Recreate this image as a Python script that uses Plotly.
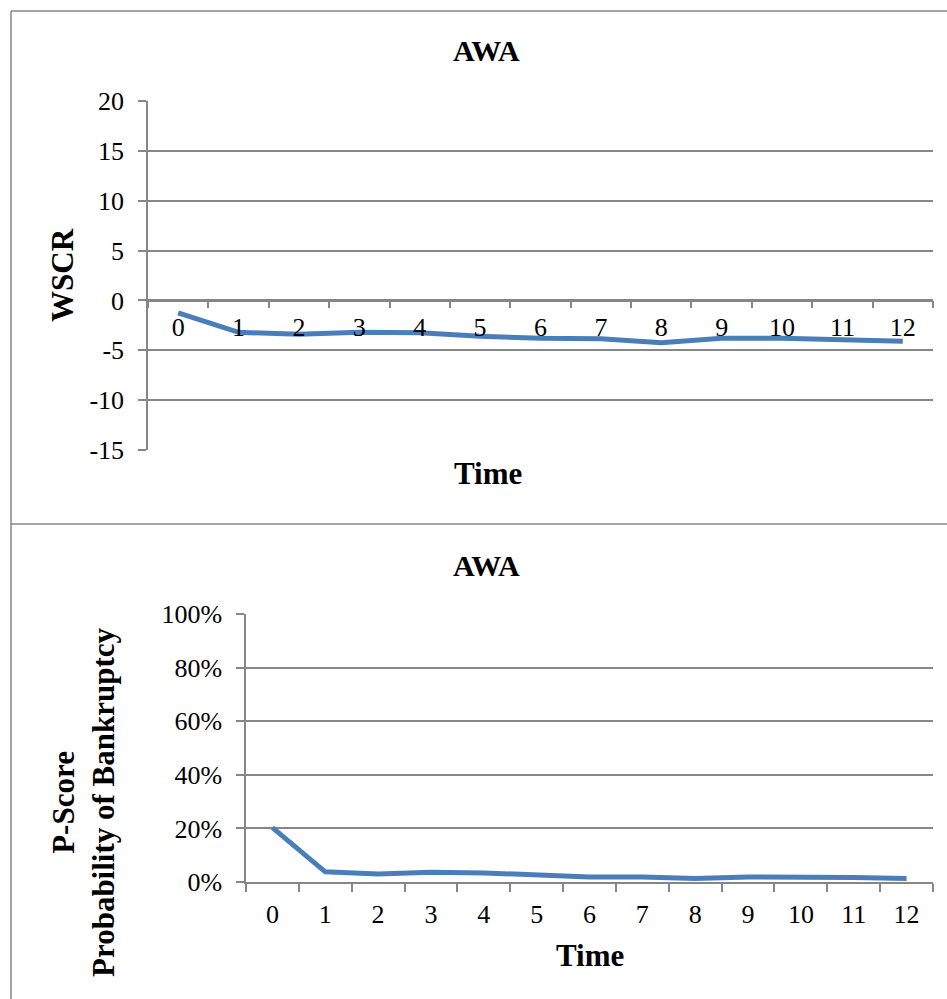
import plotly.graph_objects as go

W, H = 947, 999

time_labels = ["0", "1", "2", "3", "4", "5", "6", "7", "8", "9", "10", "11", "12"]
wscr_values = [-1.25, -3.2, -3.4, -3.2, -3.25, -3.6, -3.8, -3.85, -4.25, -3.8, -3.8, -3.9, -4.1]
pscore_values = [0.203, 0.038, 0.030, 0.036, 0.034, 0.026, 0.019, 0.019, 0.013, 0.019, 0.020, 0.017, 0.013]

chart_title = "AWA"
wscr_ticks = [-15, -10, -5, 0, 5, 10, 15, 20]
wscr_ticktext = ["-15", "-10", "-5", "0", "5", "10", "15", "20"]
pscore_ticks = [0, 0.2, 0.4, 0.6, 0.8, 1.0]
pscore_ticktext = ["0%", "20%", "40%", "60%", "80%", "100%"]

LINE_COLOR = "#4A7EBB"
GRID = "#868686"
FONT = "Liberation Serif"

def py(px):
    return 1 - px / H

def pxx(px):
    return px / W

fig = go.Figure()
fig.add_trace(go.Scatter(x=time_labels, y=wscr_values, mode="lines",
                         line=dict(color=LINE_COLOR, width=5),
                         xaxis="x", yaxis="y", showlegend=False))
fig.add_trace(go.Scatter(x=time_labels, y=pscore_values, mode="lines",
                         line=dict(color=LINE_COLOR, width=5),
                         xaxis="x2", yaxis="y2", showlegend=False))

tickfont = dict(family=FONT, size=26, color="black")

fig.update_layout(
    xaxis=dict(domain=[pxx(148), pxx(933)], type="category", range=[-0.5, 12.5],
               anchor="free", position=py(300.7), automargin=False,
               showline=True, linecolor=GRID, linewidth=1.5,
               ticks="outside", tickson="boundaries", ticklen=7, tickcolor=GRID, tickwidth=1.5,
               showgrid=False, tickfont=tickfont, ticklabelstandoff=3, fixedrange=True),
    yaxis=dict(domain=[py(450), py(101)], range=[-15, 20], tickvals=wscr_ticks,
               ticktext=wscr_ticktext, automargin=False,
               showline=True, linecolor=GRID, linewidth=1.5, anchor="x",
               ticks="outside", ticklen=8, tickcolor=GRID, tickwidth=1.5,
               showgrid=True, gridcolor=GRID, gridwidth=1.5, zeroline=False,
               tickfont=tickfont, ticklabelstandoff=9),
    xaxis2=dict(domain=[pxx(246), pxx(933)], type="category", range=[-0.5, 12.5],
                anchor="y2", automargin=False, showline=True, linecolor=GRID, linewidth=1.5,
                ticks="outside", tickson="boundaries", ticklen=8, tickcolor=GRID, tickwidth=1.5,
                showgrid=False, tickfont=tickfont, ticklabelstandoff=8),
    yaxis2=dict(domain=[py(882), py(614)], range=[0, 1], tickvals=pscore_ticks,
                ticktext=pscore_ticktext, anchor="x2", automargin=False,
                showline=True, linecolor=GRID, linewidth=1.5,
                ticks="outside", ticklen=8, tickcolor=GRID, tickwidth=1.5,
                showgrid=True, gridcolor=GRID, gridwidth=1.5, zeroline=False,
                tickfont=tickfont, ticklabelstandoff=9),
)

shapes = [
    dict(type="line", xref="paper", yref="paper", x0=pxx(11), x1=1, y0=py(11), y1=py(11),
         line=dict(color=GRID, width=1.5)),
    dict(type="line", xref="paper", yref="paper", x0=pxx(11), x1=pxx(11), y0=py(11), y1=0,
         line=dict(color=GRID, width=1.5)),
    dict(type="line", xref="paper", yref="paper", x0=pxx(11), x1=1, y0=py(524), y1=py(524),
         line=dict(color=GRID, width=1.5)),
]

bold = lambda s: dict(family=FONT, size=s, color="black", weight="bold")
annotations = [
    dict(text="<b>" + chart_title + "</b>", x=pxx(487), y=py(51), xref="paper", yref="paper",
         showarrow=False, font=bold(30), xanchor="center", yanchor="middle"),
    dict(text="<b>" + chart_title + "</b>", x=pxx(487), y=py(565), xref="paper", yref="paper",
         showarrow=False, font=bold(30), xanchor="center", yanchor="middle"),
    dict(text="<b>Time</b>", x=pxx(488), y=py(474), xref="paper", yref="paper",
         showarrow=False, font=bold(31), xanchor="center", yanchor="middle"),
    dict(text="<b>Time</b>", x=pxx(590), y=py(955), xref="paper", yref="paper",
         showarrow=False, font=bold(31), xanchor="center", yanchor="middle"),
    dict(text="<b>WSCR</b>", x=pxx(62), y=py(275), xref="paper", yref="paper", textangle=-90,
         showarrow=False, font=bold(31), xanchor="center", yanchor="middle"),
    dict(text="<b>P-Score</b><br><b>Probability of Bankruptcy</b>", x=pxx(83), y=py(802),
         xref="paper", yref="paper", textangle=-90,
         showarrow=False, font=bold(31), xanchor="center", yanchor="middle"),
]

fig.update_layout(width=W, height=H, margin=dict(l=0, r=0, t=0, b=0),
                  paper_bgcolor="white", plot_bgcolor="white",
                  shapes=shapes, annotations=annotations, showlegend=False)

fig.write_html("out.html")
